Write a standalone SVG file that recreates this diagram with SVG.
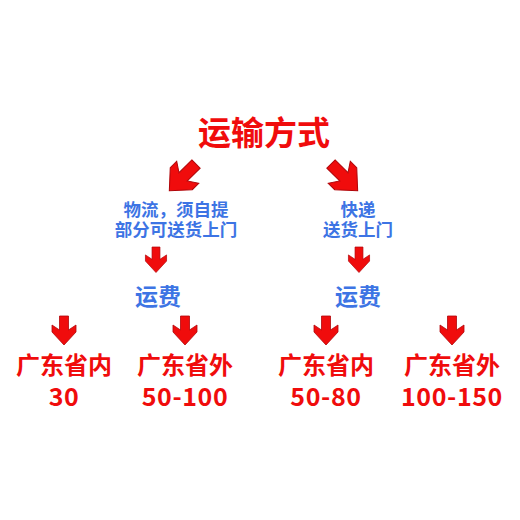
<svg xmlns="http://www.w3.org/2000/svg" width="520" height="520" viewBox="0 0 520 520">
<defs>
<style>
.t{font-family:"Noto Sans CJK SC","Noto Sans",sans-serif;font-weight:bold;text-anchor:middle}
.num{font-size:25px;letter-spacing:0.6px}
.red{fill:#f00c0c}
.blue{fill:#3d74e4}
.arr{fill:#f00c0c;stroke:#b0060a;stroke-width:0.8;stroke-linejoin:miter}
</style>
<path id="dn" d="M-4.5,0 L4.5,0 L4.5,14 L12,9 L12,16 L0,29 L-12,16 L-12,9 L-4.5,14 Z"/>
</defs>
<rect width="520" height="520" fill="#ffffff"/>
<g id="connectors" class="arr">
<use href="#dn" transform="translate(196,164) rotate(45) scale(1.3)"/>
<use href="#dn" transform="translate(331,164) rotate(-45) scale(1.3)"/>
<use href="#dn" transform="translate(156,247) scale(0.88)"/>
<use href="#dn" transform="translate(359,247) scale(0.88)"/>
<use href="#dn" transform="translate(64,316)"/>
<use href="#dn" transform="translate(185,316)"/>
<use href="#dn" transform="translate(326,316)"/>
<use href="#dn" transform="translate(452,316)"/>
</g>
<g id="root"><text class="t red" x="264" y="145" font-size="33">运输方式</text></g>
<g id="logistics">
<text class="t blue" x="176" y="216" font-size="17.5">物流，须自提</text>
<text class="t blue" x="176" y="236" font-size="17.5">部分可送货上门</text>
</g>
<g id="express">
<text class="t blue" x="358" y="216" font-size="17.5">快递</text>
<text class="t blue" x="358" y="236" font-size="17.5">送货上门</text>
</g>
<g id="fee-left"><text class="t blue" x="158" y="305" font-size="23">运费</text></g>
<g id="fee-right"><text class="t blue" x="358" y="305" font-size="23">运费</text></g>
<g id="n1">
<text class="t red" x="64" y="374" font-size="24">广东省内</text>
<text class="t red num" x="64" y="406">30</text>
</g>
<g id="n2">
<text class="t red" x="185" y="374" font-size="24">广东省外</text>
<text class="t red num" x="185" y="406">50-100</text>
</g>
<g id="n3">
<text class="t red" x="326" y="374" font-size="24">广东省内</text>
<text class="t red num" x="326" y="406">50-80</text>
</g>
<g id="n4">
<text class="t red" x="452" y="374" font-size="24">广东省外</text>
<text class="t red num" x="452" y="406">100-150</text>
</g>
</svg>
